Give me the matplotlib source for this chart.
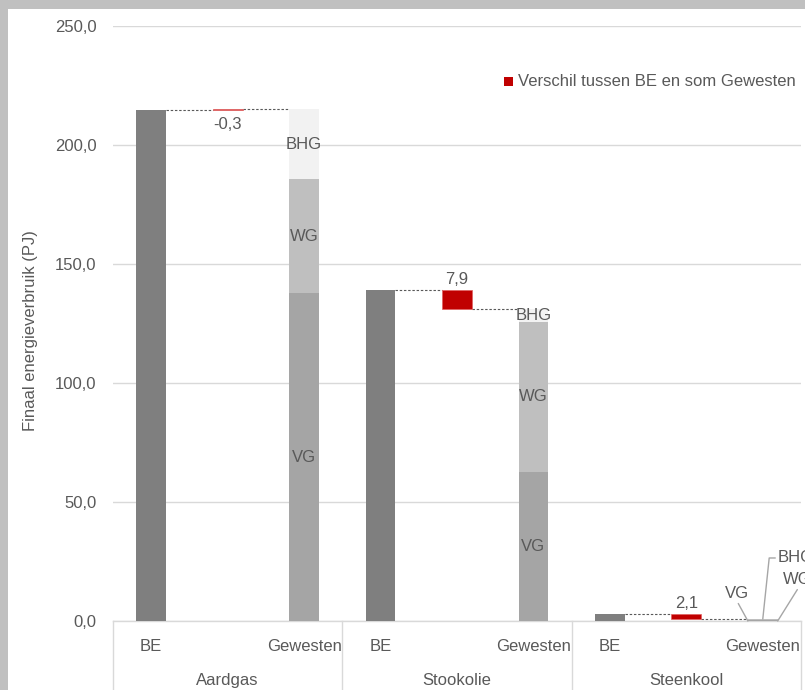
import matplotlib
matplotlib.use("Agg")
import matplotlib.pyplot as plt
from matplotlib.patches import Rectangle
from matplotlib.ticker import FuncFormatter, MultipleLocator

# Final energy use (PJ): Belgium total vs. sum of the three regions
categories = ["Aardgas", "Stookolie", "Steenkool"]
be = [214.8, 139.1, 2.9]
vg = [137.7, 62.6, 0.5]
wg = [48.0, 63.2, 0.2]
bhg = [29.4, 5.4, 0.1]
slot_labels = ["BE", "", "Gewesten"]
region_labels = ["VG", "WG", "BHG"]
legend_label = "Verschil tussen BE en som Gewesten"
y_label = "Finaal energieverbruik (PJ)"

plt.rcParams["font.family"] = ["Liberation Sans", "DejaVu Sans"]
TXT = "#595959"
FS = 12

c_be = "#7f7f7f"
c_reg = ["#a5a5a5", "#bfbfbf", "#f2f2f2"]
c_diff = "#c00000"
c_grid = "#d9d9d9"

W, H = 805, 690
fig = plt.figure(figsize=(W / 100, H / 100), dpi=100, facecolor="#c0c0c0")
fig.patches.append(Rectangle((8 / W, 0), 1, 1 - 9 / H, transform=fig.transFigure,
                             facecolor="white", edgecolor="none", zorder=-10))

ax = fig.add_axes([113 / W, 1 - 621 / H, 688 / W, 595 / H], zorder=2)
ax.set_facecolor("none")
ax.set_xlim(-0.5, 8.5)
ax.set_ylim(0, 250)

bw = 0.39
fmt = lambda v: f"{v:.1f}".replace(".", ",")

for i, cat in enumerate(categories):
    x0 = 3 * i
    regs = [vg[i], wg[i], bhg[i]]
    total = sum(regs)
    diff = be[i] - total

    # BE bar
    ax.bar(x0, be[i], width=bw, color=c_be, zorder=3)
    # difference bar (waterfall step)
    ax.bar(x0 + 1, diff, bottom=total, width=bw, color=c_diff, edgecolor="#e06060",
           linewidth=0.5, zorder=3)
    # stacked regional bar
    bottom = 0
    seg_mid = []
    for v, c in zip(regs, c_reg):
        ax.bar(x0 + 2, v, bottom=bottom, width=bw, color=c, zorder=3)
        seg_mid.append(bottom + v / 2)
        bottom += v

    # connectors
    ax.plot([x0 + bw / 2, x0 + 1 - bw / 2], [be[i], be[i]], color=TXT, lw=0.8,
            ls=(0, (2.2, 1.6)), zorder=2)
    ax.plot([x0 + 1 + bw / 2, x0 + 2 - bw / 2], [total, total], color=TXT, lw=0.8,
            ls=(0, (2.2, 1.6)), zorder=2)

    # difference label
    if diff >= 0:
        ax.annotate(fmt(diff), (x0 + 1, be[i]), xytext=(0, 2), textcoords="offset points",
                    ha="center", va="bottom", fontsize=FS, color=TXT)
    else:
        ax.annotate(fmt(diff), (x0 + 1, be[i]), xytext=(0, -5), textcoords="offset points",
                    ha="center", va="top", fontsize=FS, color=TXT)

    # region labels
    if total > 20:
        for name, ym in zip(region_labels, seg_mid):
            ax.text(x0 + 2, ym, name, ha="center", va="center", fontsize=FS, color=TXT, zorder=4)
    else:
        lc = "#a6a6a6"
        ap = dict(arrowstyle="-", color=lc, lw=1.0, shrinkA=0, shrinkB=0)
        ax.annotate(region_labels[0], (x0 + 2 - bw / 2, 0), xytext=(-8, 20),
                    textcoords="offset points", ha="center", va="center", fontsize=FS,
                    color=TXT, arrowprops=dict(ap, relpos=(0.5, 0)))
        ax.annotate(region_labels[2], (x0 + 2, total), xytext=(11, 44),
                    textcoords="offset points", ha="left", va="center", fontsize=FS,
                    color=TXT, arrowprops=dict(ap, relpos=(0, 0.5),
                                               connectionstyle="angle,angleA=0,angleB=84"))
        ax.annotate(region_labels[1], (x0 + 2 + bw / 2, 0), xytext=(4, 30),
                    textcoords="offset points", ha="left", va="center", fontsize=FS,
                    color=TXT, arrowprops=dict(ap, relpos=(0.55, 0)))

    # group label below the axis
    ax.annotate(cat, (x0 + 1, 0), xycoords=("data", "axes fraction"), xytext=(0, -43),
                textcoords="offset points", ha="center", va="center", fontsize=FS,
                color=TXT, annotation_clip=False)

# category separators under the axis
for xs in [-0.5, 2.5, 5.5, 8.5]:
    ax.plot([xs, xs], [0, -0.2], transform=ax.get_xaxis_transform(), color=c_grid,
            lw=1.0, clip_on=False, zorder=1)

ticks = [3 * i + j for i in range(len(categories)) for j in range(3) if slot_labels[j]]
labels = [slot_labels[j] for i in range(len(categories)) for j in range(3) if slot_labels[j]]
ax.set_xticks(ticks)
ax.set_xticklabels(labels, fontsize=FS, color=TXT)
ax.tick_params(axis="x", length=0, pad=13)

ax.yaxis.set_major_locator(MultipleLocator(50))
ax.yaxis.set_major_formatter(FuncFormatter(lambda v, p: fmt(v)))
ax.tick_params(axis="y", length=0, pad=12, labelsize=FS, labelcolor=TXT)
ax.grid(axis="y", color=c_grid, lw=1.0, zorder=0)
ax.set_axisbelow(True)
for s in ["top", "right", "left"]:
    ax.spines[s].set_visible(False)
ax.spines["bottom"].set_color(c_grid)
ax.spines["bottom"].set_linewidth(1.0)

fig.text(31 / W, 1 - 331 / H, y_label, rotation=90, ha="center", va="center",
         fontsize=FS, color=TXT)

# legend
fig.patches.append(Rectangle((504 / W, 1 - 86 / H), 9 / W, 9 / H, transform=fig.transFigure,
                             facecolor=c_diff, edgecolor="none", zorder=5))
fig.text(518 / W, 1 - 81.5 / H, legend_label, ha="left", va="center", fontsize=FS, color=TXT)

fig.savefig("out.png", dpi=100, facecolor=fig.get_facecolor())
